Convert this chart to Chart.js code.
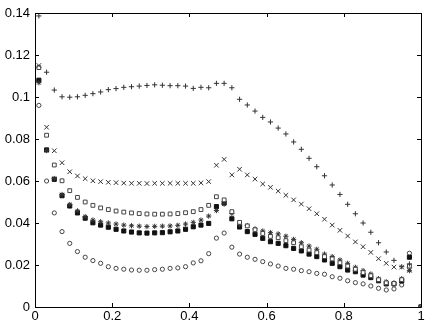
<!DOCTYPE html>
<html>
<head>
<meta charset="utf-8">
<script src="https://cdn.jsdelivr.net/npm/chart.js@4"></script>
<style>
html,body{margin:0;padding:0;background:#fff;}
#wrap{width:436px;height:327px;position:relative;}
</style>
</head>
<body>
<div id="wrap"><canvas id="c" width="436" height="327"></canvas></div>
<script>
// x positions of the samples
const xValues = [0.01,0.03,0.05,0.07,0.09,0.11,0.13,0.15,0.17,0.19,0.21,0.23,0.25,0.27,0.29,0.31,0.33,0.35,0.37,0.39,0.41,0.43,0.45,0.47,0.49,0.51,0.53,0.55,0.57,0.59,0.61,0.63,0.65,0.67,0.69,0.71,0.73,0.75,0.77,0.79,0.81,0.83,0.85,0.87,0.89,0.91,0.93,0.95,0.97,1.0];

const plusSeries = [0.1386,0.1118,0.1033,0.1001,0.0999,0.1001,0.1008,0.1016,0.1024,0.1035,0.1040,0.1046,0.1049,0.1052,0.1055,0.1058,0.1056,0.1054,0.1054,0.1052,0.1041,0.1046,0.1044,0.1065,0.1065,0.1044,0.0989,0.0962,0.0933,0.0903,0.0881,0.0852,0.0824,0.0786,0.0751,0.0708,0.0668,0.0625,0.0581,0.0536,0.0489,0.0444,0.0400,0.0356,0.0306,0.0262,0.0222,0.0192,0.0205,0];

const crossSeries = [0.1150,0.0856,0.0744,0.0687,0.0644,0.0624,0.0611,0.0601,0.0597,0.0594,0.0592,0.0590,0.0589,0.0589,0.0588,0.0589,0.0589,0.0589,0.0589,0.0589,0.0589,0.0591,0.0597,0.0675,0.0703,0.0629,0.0656,0.0629,0.0609,0.0586,0.0570,0.0552,0.0532,0.0510,0.0490,0.0468,0.0444,0.0418,0.0390,0.0365,0.0338,0.0310,0.0287,0.0260,0.0230,0.0208,0.0190,0.0190,0.0176,0];

const openSquareSeries = [0.1140,0.0818,0.0676,0.0601,0.0554,0.0522,0.0500,0.0484,0.0472,0.0464,0.0457,0.0452,0.0448,0.0445,0.0443,0.0442,0.0442,0.0443,0.0445,0.0449,0.0454,0.0464,0.0484,0.0525,0.0510,0.0454,0.0403,0.0386,0.0368,0.0350,0.0336,0.0330,0.0316,0.0306,0.0287,0.0271,0.0259,0.0240,0.0229,0.0211,0.0195,0.0180,0.0164,0.0149,0.0130,0.0115,0.0112,0.0130,0.0195,0];

const filledSquareSeries = [0.1080,0.0748,0.0608,0.0530,0.0481,0.0448,0.0423,0.0401,0.0390,0.0380,0.0370,0.0362,0.0357,0.0353,0.0352,0.0353,0.0354,0.0358,0.0362,0.0370,0.0382,0.0390,0.0398,0.0478,0.0495,0.0420,0.0381,0.0359,0.0346,0.0327,0.0311,0.0303,0.0292,0.0279,0.0267,0.0252,0.0240,0.0224,0.0208,0.0192,0.0176,0.0168,0.0152,0.0140,0.0125,0.0110,0.0110,0.0124,0.0237,0];

const starSeries = [0.1068,0.0745,0.0612,0.0536,0.0488,0.0458,0.0430,0.0414,0.0406,0.0400,0.0395,0.0390,0.0387,0.0385,0.0383,0.0384,0.0385,0.0386,0.0389,0.0395,0.0403,0.0414,0.0433,0.0459,0.0490,0.0445,0.0392,0.0388,0.0372,0.0362,0.0354,0.0348,0.0337,0.0322,0.0306,0.0290,0.0275,0.0252,0.0240,0.0224,0.0208,0.0189,0.0173,0.0157,0.0135,0.0120,0.0115,0.0135,0.0173,0];

const circleSeries = [0.0960,0.0600,0.0448,0.0359,0.0303,0.0264,0.0237,0.0221,0.0208,0.0192,0.0184,0.0180,0.0176,0.0175,0.0175,0.0178,0.0180,0.0184,0.0186,0.0192,0.0210,0.0220,0.0254,0.0328,0.0352,0.0285,0.0252,0.0237,0.0227,0.0216,0.0205,0.0195,0.0184,0.0180,0.0173,0.0168,0.0160,0.0156,0.0144,0.0137,0.0125,0.0116,0.0110,0.0100,0.0089,0.0081,0.0086,0.0105,0.0256,0];

const xTickValues = [0,0.2,0.4,0.6,0.8,1];
const xTickLabels = ['0','0.2','0.4','0.6','0.8','1'];
const yTickValues = [0,0.02,0.04,0.06,0.08,0.1,0.12,0.14];
const yTickLabels = ['0','0.02','0.04','0.06','0.08','0.1','0.12','0.14'];

function pts(arr){ return xValues.map((x,i)=>({x:x,y:arr[i]})); }

const ink = '#111';
const datasets = [
  {label:'+', data:pts(plusSeries), pointStyle:'cross', pointRadius:2.6, borderColor:'#333', backgroundColor:'#333', pointBorderWidth:1},
  {label:'x', data:pts(crossSeries), pointStyle:'crossRot', pointRadius:3.2, borderColor:'#333', backgroundColor:'#333', pointBorderWidth:1},
  {label:'open square', data:pts(openSquareSeries), pointStyle:'rect', pointRadius:2.7, borderColor:'#444', backgroundColor:'rgba(255,255,255,1)', pointBorderWidth:1},
  {label:'star', data:pts(starSeries), pointStyle:'star', pointRadius:2.6, borderColor:'#333', backgroundColor:'#333', pointBorderWidth:1},
  {label:'filled square', data:pts(filledSquareSeries), pointStyle:'rect', pointRadius:2.9, borderColor:ink, backgroundColor:ink, pointBorderWidth:1},
  {label:'circle', data:pts(circleSeries), pointStyle:'circle', pointRadius:2.1, borderColor:'#444', backgroundColor:'rgba(255,255,255,0)', pointBorderWidth:1}
];
datasets.forEach(d=>{ d.showLine=false; d.pointHoverRadius=d.pointRadius; });

const framePlugin = {
  id:'frame',
  afterDraw(chart){
    const ctx = chart.ctx, a = chart.chartArea;
    const xs = chart.scales.x, ys = chart.scales.y;
    ctx.save();
    ctx.strokeStyle = '#000';
    ctx.lineWidth = 1;
    ctx.beginPath();
    ctx.rect(Math.round(a.left)+0.5, Math.round(a.top)+0.5, Math.round(a.right-a.left), Math.round(a.bottom-a.top));
    ctx.stroke();
    const L = 4;
    ctx.beginPath();
    xTickValues.forEach(v=>{
      const px = Math.round(xs.getPixelForValue(v))+0.5;
      ctx.moveTo(px, a.bottom); ctx.lineTo(px, a.bottom-L);
      ctx.moveTo(px, a.top); ctx.lineTo(px, a.top+L);
    });
    yTickValues.forEach(v=>{
      const py = Math.round(ys.getPixelForValue(v))+0.5;
      ctx.moveTo(a.left, py); ctx.lineTo(a.left+L, py);
      ctx.moveTo(a.right, py); ctx.lineTo(a.right-L, py);
    });
    ctx.stroke();
    ctx.restore();
  }
};

new Chart(document.getElementById('c'), {
  type:'scatter',
  data:{datasets:datasets},
  options:{
    responsive:false,
    animation:false,
    events:[],
    layout:{padding:{top:13,right:15,left:0,bottom:0}},
    plugins:{legend:{display:false},tooltip:{enabled:false}},
    scales:{
      x:{
        type:'linear', min:0, max:1,
        afterBuildTicks(s){ s.ticks = xTickValues.map(v=>({value:v})); },
        afterFit(s){ s.height = 20; },
        grid:{display:false, drawTicks:false},
        border:{display:false},
        ticks:{padding:2, color:'#000', maxRotation:0, font:{family:'Liberation Sans', size:13},
          callback:(v)=>{ const i = xTickValues.findIndex(t=>Math.abs(t-v)<1e-9); return i>=0?xTickLabels[i]:''; }}
      },
      y:{
        type:'linear', min:0, max:0.14,
        afterBuildTicks(s){ s.ticks = yTickValues.map(v=>({value:v})); },
        afterFit(s){ s.width = 35; },
        grid:{display:false, drawTicks:false},
        border:{display:false},
        ticks:{padding:5, color:'#000', font:{family:'Liberation Sans', size:13},
          callback:(v)=>{ const i = yTickValues.findIndex(t=>Math.abs(t-v)<1e-9); return i>=0?yTickLabels[i]:''; }}
      }
    }
  },
  plugins:[framePlugin]
});
</script>
</body>
</html>
